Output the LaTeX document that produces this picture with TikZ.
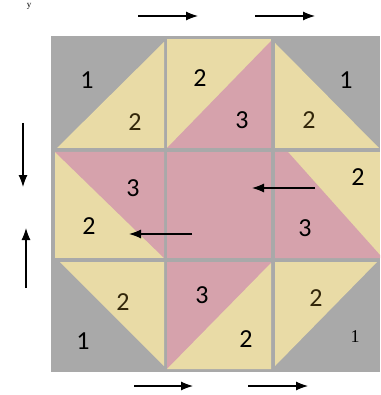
\documentclass[tikz,border=0pt]{standalone}
\usepackage{fontspec}
\setmainfont{Carlito}
\newfontfamily\serifyfont{Liberation Serif}
\usetikzlibrary{arrows.meta}
\definecolor{qgray}{RGB}{169,169,169}
\definecolor{qyel}{RGB}{233,219,166}
\definecolor{qpink}{RGB}{214,162,172}
\definecolor{qbrown}{RGB}{50,38,10}
\tikzset{
  num/.style={font=\fontsize{26}{26}\selectfont, text=black, inner sep=0pt},
  numy/.style={num, text=qbrown},
  arr/.style={-{Latex[length=12pt,width=9pt]}, line width=1.1pt, black},
}
\begin{document}
\begin{tikzpicture}[x=1pt,y=-1pt]
\useasboundingbox (0,0) rectangle (380,395);
% small letter at top-left
\node[font=\serifyfont\fontsize{9}{9}\selectfont, anchor=north, inner sep=0pt] (ytxt) at (29,3) {y};
% background
\fill[qgray] (51,36) rectangle (380,372);
% top row
\fill[qyel] (164,42) -- (164,148) -- (57,148) -- cycle;
\fill[qyel] (167,39) rectangle (271,148);
\fill[qpink] (167,148) -- (271,148) -- (271,41) -- cycle;
\fill[qyel] (275,43) -- (275,148) -- (379,148) -- cycle;
% middle row
\fill[qyel] (55,152) rectangle (164,258);
\fill[qpink] (55,152) -- (164,152) -- (164,258) -- cycle;
\fill[qpink] (167,152) rectangle (271,258);
\fill[qyel] (275,152) rectangle (380,258);
\fill[qpink] (275,152) -- (288,152) -- (380,255) -- (380,258) -- (275,258) -- cycle;
% bottom row
\fill[qyel] (60,262) -- (164,262) -- (164,366) -- cycle;
\fill[qpink] (167,262) rectangle (271,369);
\fill[qyel] (167,369) -- (271,369) -- (271,263) -- cycle;
\fill[qyel] (275,262) -- (377,262) -- (275,366) -- cycle;
% labels top row
\node[num]  (a1) at (87,80) {1};
\node[numy] (a2) at (135,122) {2};
\node[num]  (b2) at (200,78) {2};
\node[num]  (b3) at (242,120) {3};
\node[numy] (c2) at (309,120) {2};
\node[num]  (c1) at (346,80) {1};
% middle row
\node[num] (d3) at (133,188) {3};
\node[num] (d2) at (89,226) {2};
\node[num] (f2) at (358,177) {2};
\node[num] (f3) at (305,228) {3};
% bottom row
\node[numy] (g2) at (123,302) {2};
\node[num]  (g1) at (83,341) {1};
\node[num]  (h3) at (202,295) {3};
\node[num]  (h2) at (246,339) {2};
\node[numy] (i2) at (316,298) {2};
\node[font=\serifyfont\fontsize{18}{18}\selectfont, inner sep=0pt] (i1) at (355,337) {1};
% arrow end points
\coordinate (t1s) at (138,16); \coordinate (t1e) at (198,16);
\coordinate (t2s) at (255,16); \coordinate (t2e) at (315,16);
\coordinate (l1s) at (23,123); \coordinate (l1e) at (23,187);
\coordinate (l2s) at (26,288); \coordinate (l2e) at (26,228);
\coordinate (b1s) at (134,386); \coordinate (b1e) at (193,386);
\coordinate (b2s) at (248,386); \coordinate (b2e) at (308,386);
\coordinate (m1s) at (315,188); \coordinate (m1e) at (252,188);
\coordinate (m2s) at (192,234); \coordinate (m2e) at (129,234);
\draw[arr] (t1s) -- (t1e);
\draw[arr] (t2s) -- (t2e);
\draw[arr] (l1s) -- (l1e);
\draw[arr] (l2s) -- (l2e);
\draw[arr] (b1s) -- (b1e);
\draw[arr] (b2s) -- (b2e);
\draw[arr] (m1s) -- (m1e);
\draw[arr] (m2s) -- (m2e);
\end{tikzpicture}
\end{document}
